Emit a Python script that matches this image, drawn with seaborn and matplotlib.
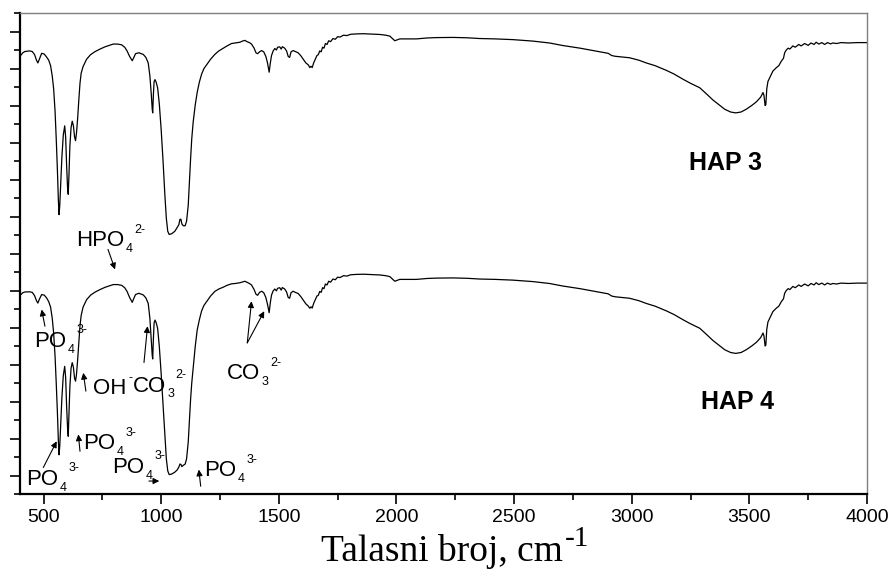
import matplotlib
matplotlib.use("Agg")
import matplotlib.pyplot as plt
from matplotlib.ticker import MultipleLocator
import pandas as pd
import seaborn as sns

# FTIR spectra (wavenumber in cm^-1, transmittance in arbitrary offset units)
wavenumber = [
    404, 412, 421, 440, 452, 462, 470, 476, 482, 492,
    503, 513, 522, 530, 537, 543, 549, 554, 559, 563,
    566, 569, 573, 578, 584, 590, 594, 598, 602, 605,
    608, 612, 617, 622, 627, 632, 636, 640, 645, 650,
    655, 660, 668, 683, 700, 720, 740, 761, 780, 796,
    815, 832, 845, 855, 866, 877, 884, 891, 905, 924,
    935, 945, 952, 958, 962, 964, 967, 970, 974, 979,
    985, 992, 1000, 1008, 1016, 1022, 1028, 1034, 1045, 1058,
    1068, 1075, 1080, 1084, 1088, 1094, 1102, 1108, 1115, 1120,
    1125, 1130, 1136, 1145, 1153, 1162, 1172, 1182, 1193, 1210,
    1228, 1245, 1264, 1280, 1299, 1315, 1335, 1345, 1356, 1365,
    1375, 1384, 1395, 1403, 1410, 1418, 1427, 1436, 1445, 1452,
    1459, 1464, 1469, 1476, 1483, 1490, 1495, 1504, 1510, 1515,
    1525, 1533, 1540, 1546, 1552, 1561, 1570, 1582, 1593, 1604,
    1615, 1625, 1632, 1637, 1642, 1648, 1655, 1662, 1668, 1674,
    1680, 1686, 1692, 1698, 1705, 1712, 1720, 1730, 1740, 1750,
    1760, 1775, 1790, 1805, 1830, 1860, 1890, 1929, 1955, 1972,
    1985, 1993, 2003, 2014, 2050, 2085, 2130, 2170, 2241, 2300,
    2354, 2420, 2496, 2581, 2650, 2708, 2780, 2850, 2900, 2915,
    2930, 2991, 3030, 3062, 3100, 3147, 3180, 3218, 3250, 3289,
    3320, 3345, 3370, 3395, 3420, 3442, 3465, 3487, 3510, 3530,
    3548, 3558, 3562, 3567, 3570, 3574, 3579, 3590, 3600, 3615,
    3625, 3636, 3645, 3650, 3657, 3665, 3672, 3685, 3695, 3710,
    3720, 3735, 3750, 3762, 3775, 3784, 3795, 3808, 3820, 3832,
    3845, 3855, 3870, 3890, 3920, 3960, 4000,
]

hap3 = [
    22.72, 22.85, 22.92, 22.95, 22.92, 22.75, 22.45, 22.30, 22.50, 22.82,
    22.78, 22.62, 22.45, 22.15, 21.60, 20.90, 19.70, 18.20, 16.50, 14.90,
    14.10, 14.60, 15.80, 17.20, 18.40, 18.90, 18.30, 16.80, 15.60, 15.20,
    16.20, 17.80, 18.80, 19.15, 18.90, 18.30, 18.10, 18.50, 19.30, 20.30,
    21.20, 21.75, 22.10, 22.50, 22.75, 22.92, 23.05, 23.17, 23.25, 23.32,
    23.32, 23.28, 23.15, 22.95, 22.65, 22.42, 22.60, 22.80, 22.85, 22.76,
    22.60, 22.30, 21.60, 20.60, 19.80, 19.60, 20.60, 21.30, 21.40, 21.25,
    20.95, 20.10, 18.70, 17.00, 15.10, 13.90, 13.20, 13.03, 13.07, 13.20,
    13.40, 13.55, 13.85, 13.85, 13.60, 13.50, 13.50, 13.75, 14.60, 15.90,
    17.10, 18.20, 19.10, 20.05, 20.70, 21.25, 21.70, 22.00, 22.20, 22.50,
    22.76, 22.95, 23.10, 23.22, 23.35, 23.38, 23.42, 23.48, 23.52, 23.45,
    23.40, 23.32, 23.10, 22.85, 22.80, 22.90, 22.97, 22.90, 22.65, 22.30,
    21.80, 22.30, 22.70, 22.95, 23.08, 23.00, 23.15, 23.17, 23.05, 23.18,
    23.10, 22.95, 22.65, 22.60, 22.90, 22.97, 22.92, 22.85, 22.70, 22.50,
    22.30, 22.20, 22.05, 22.12, 22.05, 22.30, 22.50, 22.70, 22.75, 22.95,
    22.90, 23.15, 23.10, 23.35, 23.30, 23.50, 23.45, 23.62, 23.58, 23.72,
    23.70, 23.80, 23.78, 23.85, 23.87, 23.88, 23.86, 23.84, 23.80, 23.75,
    23.60, 23.50, 23.55, 23.60, 23.60, 23.60, 23.65, 23.67, 23.68, 23.66,
    23.62, 23.60, 23.56, 23.48, 23.38, 23.24, 23.10, 22.94, 22.82, 22.70,
    22.66, 22.58, 22.45, 22.30, 22.15, 21.90, 21.70, 21.42, 21.20, 20.96,
    20.60, 20.30, 20.05, 19.80, 19.65, 19.60, 19.65, 19.80, 20.00, 20.20,
    20.45, 20.70, 20.55, 20.00, 20.05, 20.90, 21.30, 21.60, 21.86, 22.05,
    22.15, 22.40, 22.55, 22.85, 23.00, 23.10, 23.05, 23.22, 23.15, 23.30,
    23.22, 23.35, 23.25, 23.38, 23.30, 23.42, 23.32, 23.40, 23.30, 23.40,
    23.33, 23.38, 23.35, 23.40, 23.38, 23.40, 23.40,
]

hap4 = [
    9.78, 9.88, 9.92, 9.93, 9.90, 9.72, 9.45, 9.32, 9.52, 9.78,
    9.75, 9.60, 9.40, 9.10, 8.50, 7.70, 6.45, 5.00, 3.40, 1.90,
    1.12, 1.60, 2.80, 4.20, 5.40, 5.90, 5.30, 3.80, 2.60, 2.12,
    3.20, 4.80, 5.80, 6.10, 5.85, 5.25, 5.10, 5.45, 6.25, 7.20,
    8.10, 8.65, 9.10, 9.50, 9.75, 9.92, 10.05, 10.17, 10.25, 10.32,
    10.32, 10.28, 10.15, 9.95, 9.62, 9.36, 9.58, 9.78, 9.85, 9.76,
    9.60, 9.30, 8.50, 7.30, 6.50, 6.30, 7.40, 8.25, 8.40, 8.25,
    7.95, 7.00, 5.50, 3.80, 2.00, 0.90, 0.25, 0.05, 0.08, 0.18,
    0.30, 0.45, 0.62, 0.60, 0.48, 0.55, 0.62, 0.90, 1.80, 3.00,
    4.10, 5.00, 5.80, 7.00, 7.85, 8.40, 8.90, 9.20, 9.40, 9.70,
    9.95, 10.08, 10.18, 10.28, 10.36, 10.38, 10.42, 10.46, 10.50, 10.44,
    10.38, 10.30, 10.05, 9.80, 9.74, 9.90, 9.96, 9.88, 9.62, 9.25,
    8.80, 9.35, 9.75, 9.98, 10.08, 9.98, 10.12, 10.15, 10.02, 10.16,
    10.08, 9.92, 9.62, 9.58, 9.88, 9.96, 9.90, 9.84, 9.68, 9.48,
    9.28, 9.16, 9.04, 9.12, 9.05, 9.30, 9.50, 9.70, 9.74, 9.95,
    9.90, 10.15, 10.10, 10.35, 10.30, 10.50, 10.45, 10.62, 10.58, 10.72,
    10.70, 10.80, 10.78, 10.85, 10.87, 10.88, 10.86, 10.84, 10.80, 10.75,
    10.60, 10.50, 10.55, 10.60, 10.60, 10.60, 10.65, 10.67, 10.68, 10.66,
    10.62, 10.60, 10.56, 10.48, 10.38, 10.24, 10.10, 9.94, 9.82, 9.70,
    9.66, 9.58, 9.45, 9.30, 9.15, 8.90, 8.70, 8.42, 8.20, 7.96,
    7.60, 7.30, 7.05, 6.80, 6.65, 6.60, 6.65, 6.80, 7.00, 7.20,
    7.45, 7.70, 7.55, 7.00, 7.05, 7.90, 8.30, 8.60, 8.86, 9.05,
    9.15, 9.40, 9.55, 9.85, 10.00, 10.10, 10.05, 10.22, 10.15, 10.30,
    10.22, 10.35, 10.25, 10.38, 10.30, 10.42, 10.32, 10.40, 10.30, 10.40,
    10.33, 10.38, 10.35, 10.40, 10.38, 10.40, 10.40,
]

samples = ["HAP 3", "HAP 4"]
x_ticks = [500, 1000, 1500, 2000, 2500, 3000, 3500, 4000]

sns.set_style("white")
plt.rcParams["font.family"] = ["Liberation Sans", "DejaVu Sans"]
plt.rcParams["mathtext.default"] = "regular"
for key in ("text.color", "axes.labelcolor", "xtick.color", "ytick.color"):
    plt.rcParams[key] = "black"

df = pd.DataFrame({
    "wavenumber": wavenumber * 2,
    "T": hap3 + hap4,
    "sample": [samples[0]] * len(wavenumber) + [samples[1]] * len(wavenumber),
})

fig = plt.figure(figsize=(8.9, 5.81), dpi=100)
ax = fig.add_axes([20 / 890, 1 - 494 / 581, 847 / 890, 481 / 581])

sns.lineplot(data=df, x="wavenumber", y="T", units="sample", estimator=None,
             color="black", linewidth=0.9, ax=ax, legend=False)

ax.set_xlim(400, 4000)
ax.set_ylim(-1, 25)
ax.set_xticks(x_ticks)
ax.set_xticklabels([str(t) for t in x_ticks])
ax.xaxis.set_minor_locator(MultipleLocator(250))
ax.yaxis.set_major_locator(MultipleLocator(2))
ax.yaxis.set_minor_locator(MultipleLocator(1))
ax.set_yticklabels([])
ax.set_xlabel("")
ax.set_ylabel("")

ax.tick_params(axis="both", which="major", direction="out", length=7, width=1.2,
               color="black", labelcolor="black", labelsize=14, pad=4)
ax.tick_params(axis="both", which="minor", direction="out", length=4, width=1.2,
               color="black")
ax.tick_params(left=True, bottom=True, top=False, right=False, which="both")

for side in ("left", "bottom"):
    ax.spines[side].set_color("black")
    ax.spines[side].set_linewidth(1.6)
for side in ("top", "right"):
    ax.spines[side].set_color("#7f7f7f")
    ax.spines[side].set_linewidth(1.0)


def ion(x, y, base, sub="", sup="", size=16, small=9, sub_drop=4.3, sup_rise=9.5):
    """Chemical formula with a subscript followed by a superscript."""
    t = ax.text(x, y, base, fontsize=size, ha="left", va="baseline", color="black")
    last = t
    if sub:
        last = ax.annotate(sub, xy=(1, y), xycoords=(t, "data"),
                           xytext=(1.0, -sub_drop), textcoords="offset points",
                           fontsize=small, ha="left", va="baseline", color="black")
    if sup:
        ax.annotate(sup, xy=(1, y), xycoords=(last, "data"),
                    xytext=(1.2, sup_rise), textcoords="offset points",
                    fontsize=small, ha="left", va="baseline", color="black")


def arrow(tail, head):
    ax.annotate("", xy=head, xytext=tail,
                arrowprops=dict(arrowstyle="-|>", color="black", lw=0.8,
                                mutation_scale=9, shrinkA=0, shrinkB=0))


ion(640, 12.38, "HPO", "4", "2-")
arrow((774, 12.22), (804, 11.14))

ion(462, 6.97, "PO", "4", "3-")
arrow((506, 8.07), (492, 8.97))

ion(712, 4.38, "OH", "", "-")
arrow((680, 4.56), (669, 5.55))

ion(878, 4.54, "CO", "3", "2-")
arrow((927, 6.11), (942, 8.07))

ion(1280, 5.19, "CO", "3", "2-")
arrow((1366, 7.17), (1384, 9.42))
arrow((1366, 7.17), (1438, 8.88))

ion(426, -0.49, "PO", "4", "3-")
arrow((499, 0.43), (556, 1.85))

ion(670, 1.41, "PO", "4", "3-")
arrow((655, 1.31), (648, 2.22))

ion(793, 0.16, "PO", "4", "3-")
arrow((948, -0.30), (992, -0.30))

ion(1184, -0.05, "PO", "4", "3-")
arrow((1168, -0.58), (1160, 0.32))

ax.text(3399, 16.54, samples[0], fontsize=18, fontweight="bold", ha="center",
        va="baseline", color="black")
ax.text(3450, 3.57, samples[1], fontsize=18, fontweight="bold", ha="center",
        va="baseline", color="black")

# axis title: serif text with a raised "-1"
xlab = fig.text(321 / 890, 1 - 561 / 581, "Talasni broj, cm",
                family=["Liberation Serif", "DejaVu Serif"], fontsize=27,
                ha="left", va="baseline", color="black")
ax.annotate("-1", xy=(1, 1 - 561 / 581), xycoords=(xlab, "figure fraction"),
            xytext=(1, 10.5), textcoords="offset points",
            family=["Liberation Serif", "DejaVu Serif"], fontsize=21,
            ha="left", va="baseline", color="black", annotation_clip=False)

fig.savefig("out.png", dpi=100)
